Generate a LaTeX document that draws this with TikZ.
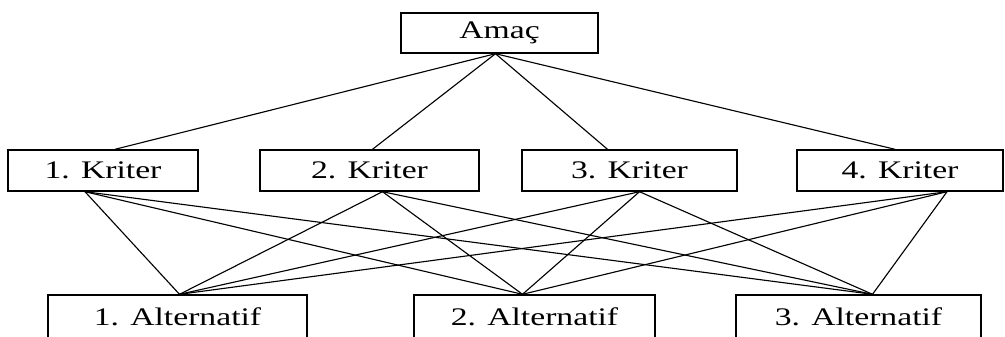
\documentclass[tikz,border=0pt]{standalone}
\usepackage{fontspec}
\setmainfont{Liberation Serif}
\usepackage{graphicx}
\usetikzlibrary{calc}

\newcommand{\wide}[1]{\scalebox{1.33}[1]{#1}}

\tikzset{
        box/.style={draw, line width=1pt, inner sep=0pt, minimum height=41*0.025cm,
                font=\fontsize{18}{21}\selectfont},
        link/.style={line width=0.8pt}
}

\begin{document}
\begin{tikzpicture}[x=0.025cm, y=-0.025cm]
        \useasboundingbox (0,0) rectangle (1005,336);
        % goal
        \node[box, minimum width=197*0.025cm, minimum height=40*0.025cm] (amac) at (499.5,33) {\wide{Amaç}};
        % criteria
        \node[box, minimum width=190*0.025cm] (k1) at (103,170.5) {\wide{1. Kriter}};
        \node[box, minimum width=219*0.025cm] (k2) at (369.5,170.5) {\wide{2. Kriter}};
        \node[box, minimum width=215*0.025cm] (k3) at (629.5,170.5) {\wide{3. Kriter}};
        \node[box, minimum width=206*0.025cm] (k4) at (900,170.5) {\wide{4. Kriter}};
        % alternatives (bottom edge runs off the page)
        \node[box, minimum width=259*0.025cm, minimum height=43*0.025cm] (a1) at (177.5,316.5) {\wide{1. Alternatif}};
        \node[box, minimum width=241*0.025cm, minimum height=43*0.025cm] (a2) at (534.5,316.5) {\wide{2. Alternatif}};
        \node[box, minimum width=245*0.025cm, minimum height=43*0.025cm] (a3) at (858.5,316.5) {\wide{3. Alternatif}};

        \path[link]
                ($(amac.south)+(-4,0)$) edge ($(k1.north)+(12,0)$)
                    edge ($(k2.north)+(3,0)$)
                    edge ($(k3.north)+(-22,0)$)
                    edge ($(k4.north)+(-5,0)$)
                ($(k1.south)+(-18,0)$) edge ($(a1.north)+(2,0)$)
                    edge ($(a2.north)+(-12,0)$)
                    edge ($(a3.north)+(14,0)$)
                ($(k2.south)+(13,0)$) edge ($(a1.north)+(2,0)$)
                    edge ($(a2.north)+(-12,0)$)
                    edge ($(a3.north)+(14,0)$)
                ($(k3.south)+(10,0)$) edge ($(a1.north)+(2,0)$)
                    edge ($(a2.north)+(-12,0)$)
                    edge ($(a3.north)+(14,0)$)
                ($(k4.south)+(47,0)$) edge ($(a1.north)+(2,0)$)
                    edge ($(a2.north)+(-12,0)$)
                    edge ($(a3.north)+(14,0)$);
\end{tikzpicture}
\end{document}
